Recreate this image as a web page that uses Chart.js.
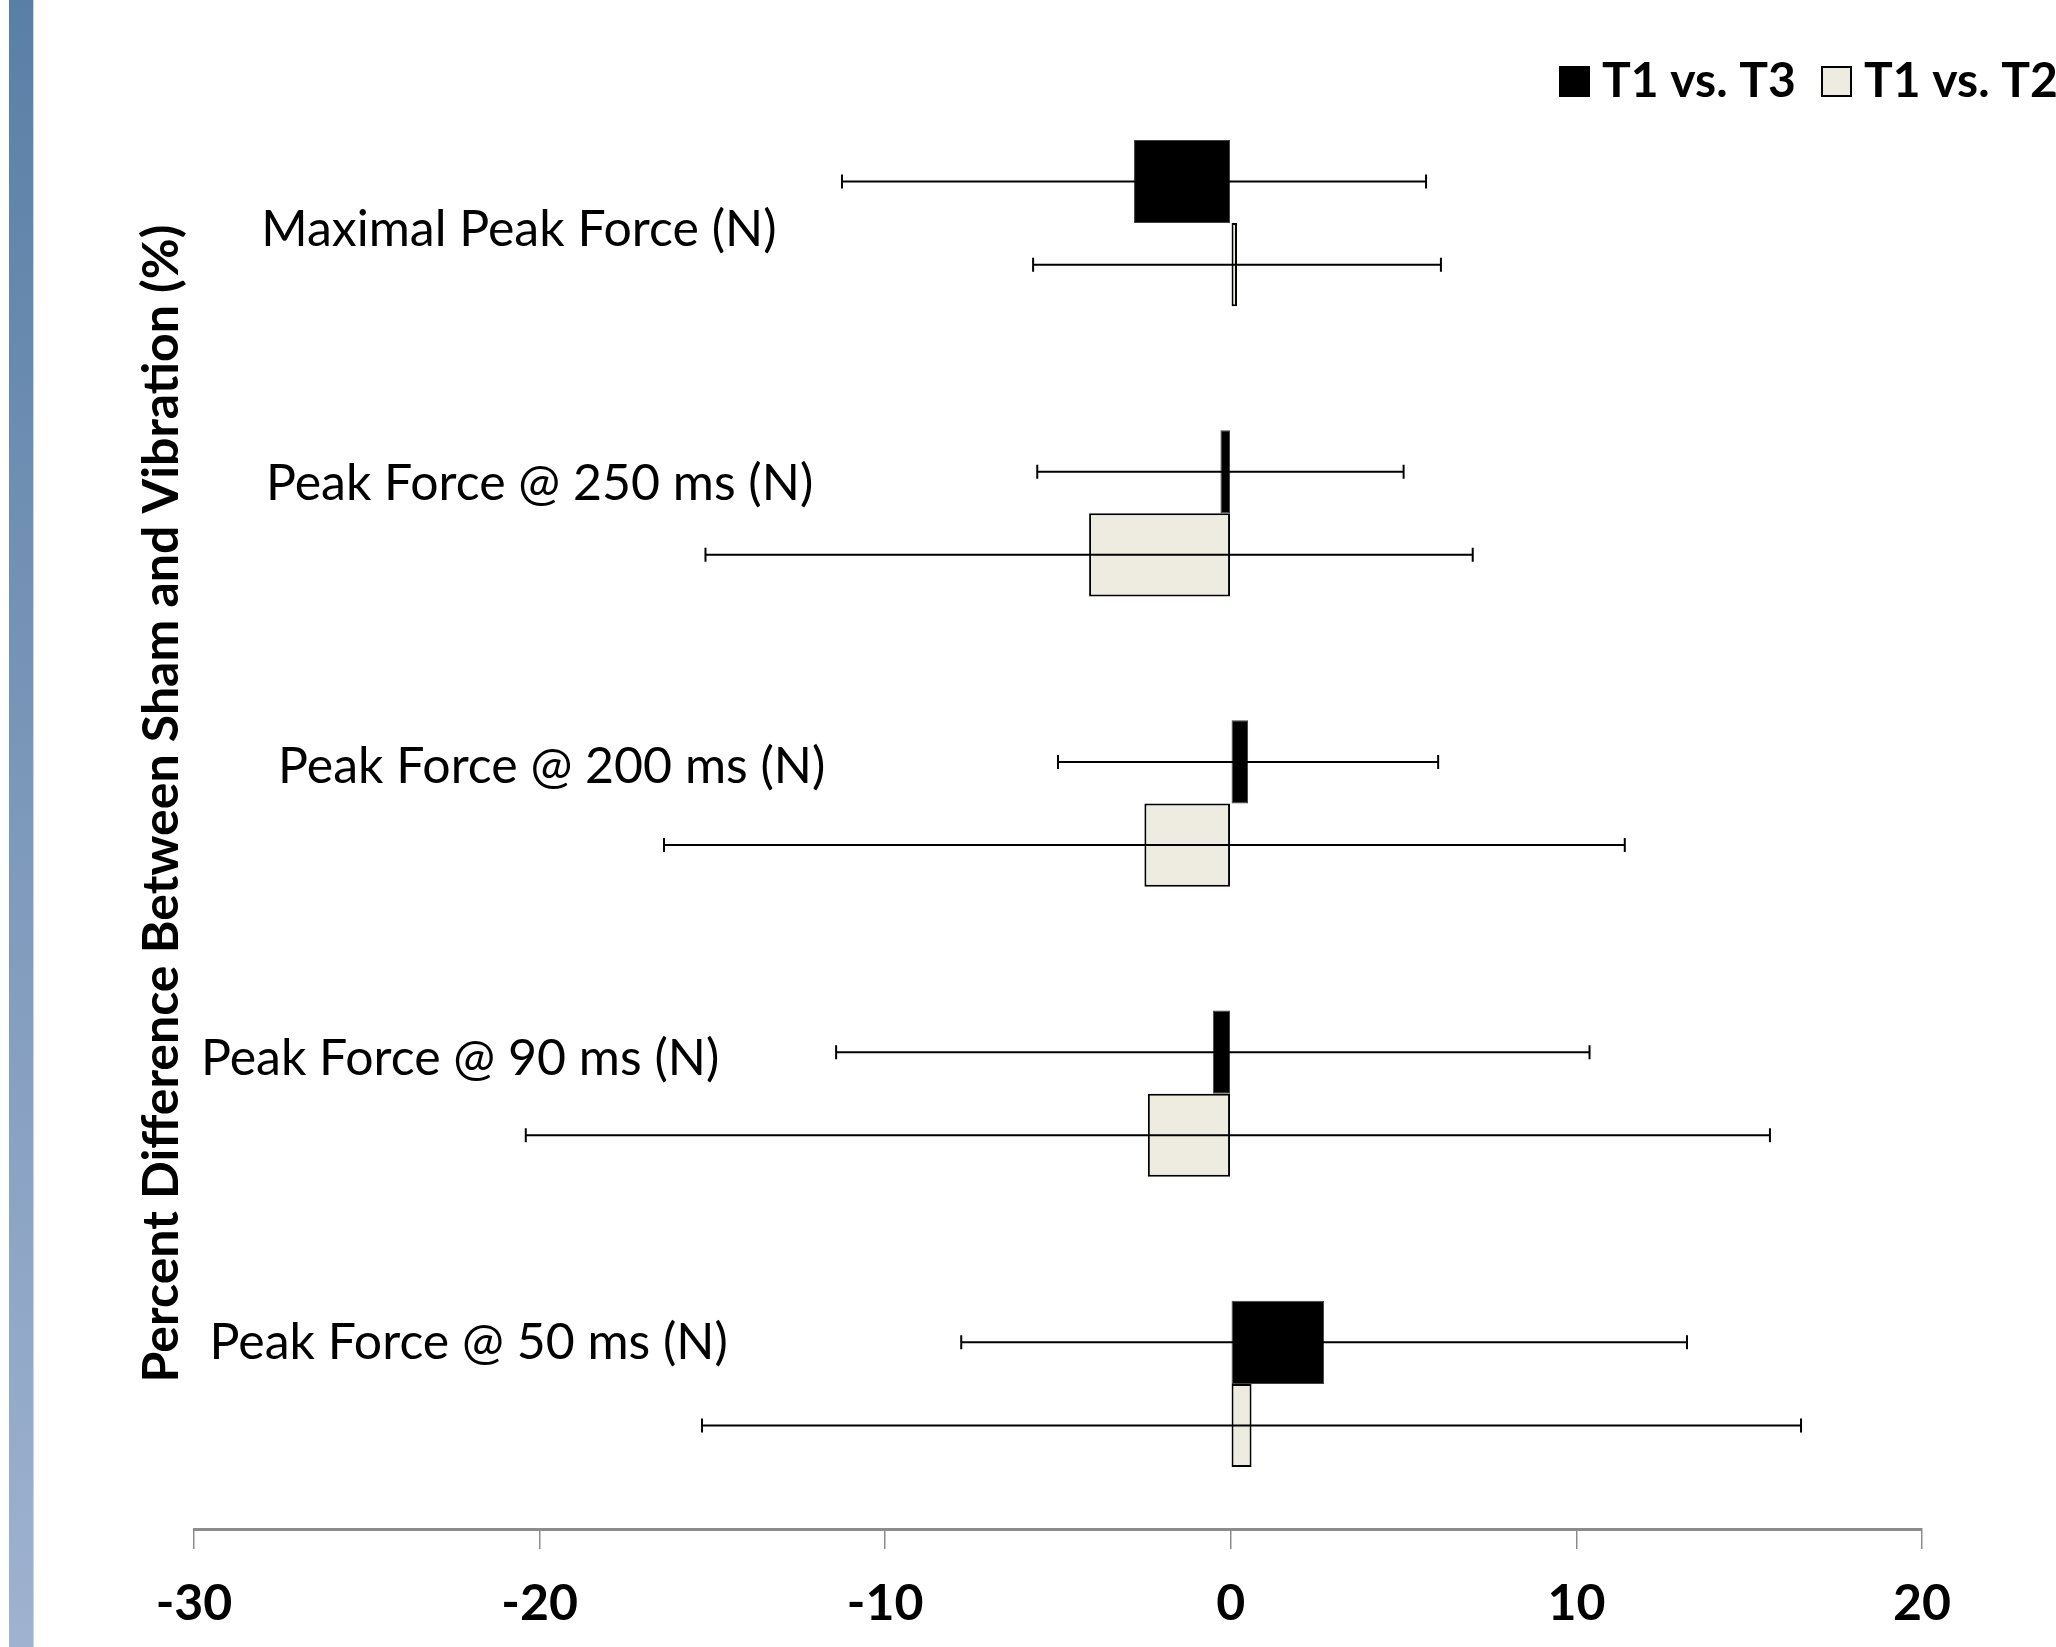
<!DOCTYPE html>
<html>
<head>
<meta charset="utf-8">
<script src="https://cdn.jsdelivr.net/npm/chart.js@4.4.1/dist/chart.umd.min.js"></script>
<style>
  html, body { margin: 0; padding: 0; background: #fff; }
  #wrap { position: relative; width: 2056px; height: 1647px; overflow: hidden; }
  #sidebar { position: absolute; left: 9px; top: 0; width: 24px; height: 1647px;
    background: linear-gradient(to bottom, #5a7fa6, #9fb2d0); border-right: 1px solid #c9d4e6; }
  canvas { position: absolute; left: 0; top: 0; }
</style>
</head>
<body>
<div id="wrap">
  <div id="sidebar"></div>
  <canvas id="chart" width="2056" height="1647"></canvas>
</div>
<script>
// categories, top to bottom
const categories = [
  "Maximal Peak Force (N)",
  "Peak Force @ 250 ms (N)",
  "Peak Force @ 200 ms (N)",
  "Peak Force @ 90 ms (N)",
  "Peak Force @ 50 ms (N)",
];
const seriesNames = ["T1 vs. T3", "T1 vs. T2"];

// percent difference
const t1vsT3 = [-2.8, -0.3, 0.5, -0.52, 2.7];
const t1vsT3Err = [8.45, 5.3, 5.5, 10.9, 10.5];
const t1vsT2 = [0.18, -4.1, -2.5, -2.4, 0.6];
const t1vsT2Err = [5.9, 11.1, 13.9, 18.0, 15.9];

const xTicks = [-30, -20, -10, 0, 10, 20];

// where each category label sits (centre in axis units, vertical shift in px)
const labelCenter = [-20.6, -20.0, -19.65, -22.3, -22.05];
const labelShift = [7, -29, -37, -35, -41];

const FONT = "Lato, Calibri, 'Open Sans', sans-serif";

// error bars drawn on top of the bars
const errorBars = {
  id: "errorBars",
  afterDatasetsDraw(chart) {
    const ctx = chart.ctx;
    const xs = chart.scales.x;
    const errs = [t1vsT3Err, t1vsT2Err];
    ctx.save();
    ctx.strokeStyle = "#000";
    ctx.lineWidth = 2;
    chart.data.datasets.forEach((ds, di) => {
      const meta = chart.getDatasetMeta(di);
      meta.data.forEach((bar, i) => {
        const v = ds.data[i];
        const x0 = xs.getPixelForValue(v - errs[di][i]);
        const x1 = xs.getPixelForValue(v + errs[di][i]);
        const y = bar.y;
        ctx.beginPath();
        ctx.moveTo(x0, y); ctx.lineTo(x1, y);
        ctx.moveTo(x0, y - 7); ctx.lineTo(x0, y + 7);
        ctx.moveTo(x1, y - 7); ctx.lineTo(x1, y + 7);
        ctx.stroke();
      });
    });
    ctx.restore();
  },
};

// category names inside the plot, plus the legend in the top right corner
const labelsAndLegend = {
  id: "labelsAndLegend",
  afterDraw(chart) {
    const ctx = chart.ctx;
    const xs = chart.scales.x;
    const ys = chart.scales.y;
    ctx.save();
    ctx.fillStyle = "#000";
    ctx.font = "50px " + FONT;
    ctx.textAlign = "center";
    ctx.textBaseline = "middle";
    categories.forEach((c, i) => {
      ctx.fillText(c, xs.getPixelForValue(labelCenter[i]), ys.getPixelForValue(i) + labelShift[i]);
    });

    // legend
    const fills = ["#000000", "#eeece1"];
    const boxX = [1560, 1822];
    ctx.font = "bold 48px " + FONT;
    ctx.textAlign = "left";
    seriesNames.forEach((n, i) => {
      ctx.fillStyle = fills[i];
      ctx.fillRect(boxX[i], 67, 29, 29);
      ctx.strokeStyle = "#000";
      ctx.lineWidth = 2;
      ctx.strokeRect(boxX[i], 67, 29, 29);
      ctx.fillStyle = "#000";
      ctx.fillText(n, boxX[i] + 42, 82);
    });
    ctx.restore();
  },
};

new Chart(document.getElementById("chart"), {
  type: "bar",
  data: {
    labels: categories,
    datasets: [
      {
        label: seriesNames[0],
        data: t1vsT3,
        backgroundColor: "#000000",
        borderColor: "#404040",
        borderWidth: 1,
        borderSkipped: false,
        categoryPercentage: 0.573,
        barPercentage: 1.0,
      },
      {
        label: seriesNames[1],
        data: t1vsT2,
        backgroundColor: "#eeece1",
        borderColor: "#000000",
        borderWidth: 2,
        borderSkipped: false,
        categoryPercentage: 0.573,
        barPercentage: 1.0,
      },
    ],
  },
  options: {
    indexAxis: "y",
    responsive: false,
    devicePixelRatio: 1,
    animation: false,
    layout: { padding: { top: 78, right: 134, bottom: 0, left: 124 } },
    plugins: {
      legend: { display: false },
      tooltip: { enabled: false },
    },
    scales: {
      x: {
        min: -30,
        max: 20,
        afterBuildTicks: (axis) => { axis.ticks = xTicks.map((v) => ({ value: v })); },
        afterFit: (axis) => { axis.height = 118; },
        grid: { display: true, drawOnChartArea: false, drawTicks: true, tickLength: 20,
          color: "#8c8c8c", lineWidth: 1.5 },
        border: { display: true, color: "#8c8c8c", width: 3 },
        ticks: { color: "#000", padding: 30,
          font: { family: FONT, size: 50, weight: "bold", lineHeight: 1.0 } },
      },
      y: {
        afterFit: (axis) => { axis.width = 70; },
        grid: { display: false },
        border: { display: false },
        ticks: { display: false },
        title: {
          display: true,
          text: "Percent Difference Between Sham and Vibration (%)",
          color: "#000",
          font: { family: FONT, size: 50, weight: "bold", lineHeight: 1.2 },
          padding: { top: 8, bottom: 0 },
        },
      },
    },
  },
  plugins: [errorBars, labelsAndLegend],
});
</script>
</body>
</html>
